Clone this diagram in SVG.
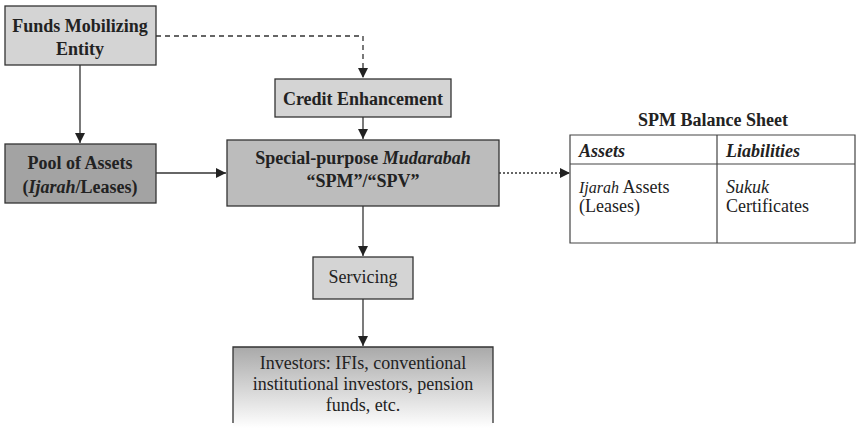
<svg xmlns="http://www.w3.org/2000/svg" width="857" height="428" viewBox="0 0 857 428">
<style>
text{font-family:"Liberation Serif","Times New Roman",serif;fill:#222;font-size:18px}
.b{font-weight:bold}
.c{text-anchor:middle}
.i{font-style:italic}
.box{stroke:#333;stroke-width:1.3}
.ln{stroke:#333;stroke-width:1.3;fill:none}
</style>
<defs>
<marker id="ah" viewBox="0 0 10 10" refX="10" refY="5" markerWidth="10" markerHeight="10" markerUnits="userSpaceOnUse" orient="auto"><path d="M0,0 L10,5 L0,10 Z" fill="#222"/></marker>
<linearGradient id="g" x1="0" y1="0" x2="0" y2="1"><stop offset="0" stop-color="#a9a9a9"/><stop offset="1" stop-color="#ffffff"/></linearGradient>
</defs>
<g id="connectors">
<path class="ln" d="M156,36 H363 V78" stroke-dasharray="5,4" marker-end="url(#ah)"/>
<path class="ln" d="M80,65 V143" marker-end="url(#ah)"/>
<path class="ln" d="M363,117 V139" marker-end="url(#ah)"/>
<path class="ln" d="M156,173 H226" marker-end="url(#ah)"/>
<path class="ln" d="M499,173 H570" stroke-dasharray="2,2" marker-end="url(#ah)"/>
<path class="ln" d="M363,206 V256" marker-end="url(#ah)"/>
<path class="ln" d="M363,299 V346" marker-end="url(#ah)"/>
</g>
<g id="funds">
<rect class="box" x="5" y="6" width="151" height="59" fill="#d4d4d4"/>
<text class="b c" x="80" y="32">Funds Mobilizing</text>
<text class="b c" x="80" y="55">Entity</text>
</g>
<g id="credit">
<rect class="box" x="275" y="79" width="176" height="38" fill="#d4d4d4"/>
<text class="b c" x="363" y="104.5">Credit Enhancement</text>
</g>
<g id="pool">
<rect class="box" x="5" y="144" width="151" height="59" fill="#a3a3a3"/>
<text class="b c" x="80" y="169" font-size="18.5">Pool of Assets</text>
<text class="b c" x="80" y="193" font-size="18.5">(<tspan class="i">Ijarah</tspan>/Leases)</text>
</g>
<g id="spm">
<rect class="box" x="227" y="140" width="272" height="66" fill="#bcbcbc"/>
<text class="b c" x="363" y="164" font-size="18.5">Special-purpose <tspan class="i">Mudarabah</tspan></text>
<text class="b c" x="363" y="187" font-size="18.5">“SPM”/“SPV”</text>
</g>
<g id="balance">
<text class="b c" x="713" y="126" font-size="15">SPM Balance Sheet</text>
<path d="M570,135 H855 V243 H570 Z M570,164 H855 M717,135 V243" fill="none" stroke="#444" stroke-width="1.2"/>
<text class="b i" x="579" y="157">Assets</text>
<text class="b i" x="726" y="157">Liabilities</text>
<text x="579" y="193"><tspan class="i" font-size="16">Ijarah</tspan> Assets</text>
<text x="579" y="212">(Leases)</text>
<text class="i" x="726" y="193">Sukuk</text>
<text x="726" y="212">Certificates</text>
</g>
<g id="servicing">
<rect class="box" x="313" y="257" width="100" height="42" fill="#d4d4d4"/>
<text class="c" x="363" y="283">Servicing</text>
</g>
<g id="investors">
<rect x="233" y="347" width="260" height="81" fill="url(#g)"/>
<path class="ln" d="M233,423 V347 H493 V423"/>
<text class="c" x="363" y="369" font-size="19.5">Investors: IFIs, conventional</text>
<text class="c" x="363" y="390" font-size="19.5">institutional investors, pension</text>
<text class="c" x="363" y="411" font-size="19.5">funds, etc.</text>
</g>
</svg>
